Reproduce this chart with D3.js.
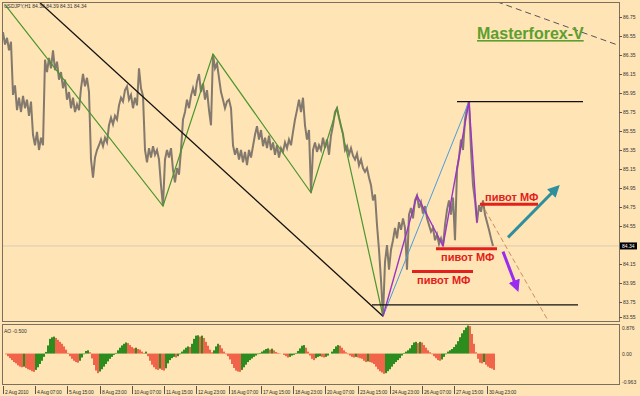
<!DOCTYPE html>
<html>
<head>
<meta charset="utf-8">
<script src="https://cdn.jsdelivr.net/npm/d3@7"></script>
<style>
  body { margin: 0; background: #ffe4b5; }
  svg { display: block; font-family: "Liberation Sans", Arial, sans-serif; }
</style>
</head>
<body>
<script>
// USDJPY H1 closes, one value every 2 bars
var closes = [
  86.59, 86.46, 86.53, 86.40, 86.49, 85.93, 86.03, 85.77, 85.90, 85.75,
  85.92, 85.79, 85.88, 85.71, 85.86, 85.51, 85.40, 85.54, 85.35, 85.48,
  85.40, 86.30, 86.17, 86.32, 86.21, 86.40, 86.19, 86.28, 86.09, 86.17,
  86.00, 86.09, 85.88, 85.96, 85.79, 85.90, 85.75, 85.83, 85.77, 86.00,
  86.15, 86.02, 86.11, 85.96, 85.25, 85.06, 85.27, 85.35, 85.40, 85.46,
  85.39, 85.48, 85.43, 85.61, 85.69, 85.62, 85.71, 85.67, 85.82, 85.90,
  85.86, 85.98, 86.02, 85.88, 85.93, 85.79, 85.90, 85.82, 86.21, 86.00,
  85.92, 85.35, 85.22, 85.37, 85.27, 85.39, 85.30, 85.35, 85.25, 84.98,
  84.76, 85.25, 85.35, 85.27, 85.37, 85.14, 85.01, 85.16, 85.09, 85.35,
  85.67, 85.75, 85.88, 85.79, 85.92, 86.00, 85.92, 86.07, 86.15, 85.96,
  86.05, 85.88, 85.98, 85.77, 85.61, 86.36, 86.21, 86.26, 86.11, 85.96,
  85.88, 85.79, 85.86, 85.88, 85.79, 85.40, 85.30, 85.37, 85.25, 85.35,
  85.22, 85.33, 85.19, 85.35, 85.27, 85.39, 85.51, 85.60, 85.46, 85.56,
  85.39, 85.48, 85.37, 85.50, 85.35, 85.43, 85.30, 85.40, 85.27, 85.37,
  85.33, 85.43, 85.37, 85.46, 85.40, 85.54, 85.67, 85.77, 85.88, 85.75,
  85.90, 85.61, 85.46, 85.56, 84.90, 85.35, 85.43, 85.33, 85.40, 85.35,
  85.48, 85.37, 85.46, 85.30, 85.50, 85.61, 85.75, 85.79, 85.69, 85.60,
  85.52, 85.35, 85.39, 85.30, 85.37, 85.29, 85.25, 85.31, 85.19, 85.25,
  85.16, 85.12, 85.16, 85.06, 84.98, 84.82, 84.88, 84.56, 84.30, 83.98,
  83.60, 84.17, 84.35, 84.09, 84.30, 84.40, 84.53, 84.42, 84.59, 84.51,
  84.63, 84.53, 84.09, 84.67, 84.74, 84.63, 84.82, 84.87, 84.74, 84.80,
  84.68, 84.76, 84.63, 84.56, 84.49, 84.53, 84.40, 84.46, 84.36, 84.42,
  84.34, 84.56, 84.72, 84.82, 84.67, 84.85, 84.40, 85.14, 85.27, 85.46,
  85.35, 85.67, 85.79, 85.86, 85.35, 84.98, 84.82, 84.59, 84.77, 84.70,
  84.82, 84.67, 84.59, 84.51, 84.42, 84.34
];

// Awesome Oscillator, same sampling
var aoValues = [
  0.00, -0.02, -0.08, -0.14, -0.20, -0.26, -0.30, -0.36, -0.40, -0.42,
  -0.40, -0.44, -0.48, -0.50, -0.54, -0.56, -0.50, -0.42, -0.32, -0.22,
  -0.10, 0.05, 0.25, 0.45, 0.50, 0.52, 0.48, 0.42, 0.36, 0.30,
  0.22, 0.12, 0.02, -0.08, -0.16, -0.22, -0.26, -0.28, -0.22, -0.12,
  -0.02, 0.08, 0.10, 0.04, -0.15, -0.35, -0.52, -0.60, -0.55, -0.48,
  -0.40, -0.32, -0.24, -0.16, -0.10, -0.04, 0.02, 0.10, 0.18, 0.25,
  0.30, 0.34, 0.32, 0.26, 0.20, 0.16, 0.18, 0.14, 0.12, 0.06,
  0.02, 0.06, -0.08, -0.22, -0.34, -0.42, -0.48, -0.50, -0.46, -0.50,
  -0.52, -0.45, -0.30, -0.20, -0.14, -0.10, -0.12, -0.08, -0.02, 0.06,
  0.12, 0.18, 0.22, 0.20, 0.30, 0.45, 0.55, 0.56, 0.52, 0.55,
  0.48, 0.36, 0.24, 0.12, 0.04, 0.10, 0.22, 0.30, 0.26, 0.16,
  0.06, -0.02, -0.08, -0.18, -0.32, -0.44, -0.52, -0.55, -0.56, -0.50,
  -0.42, -0.34, -0.26, -0.20, -0.15, -0.10, -0.06, -0.02, 0.02, 0.06,
  0.10, 0.14, 0.16, 0.12, 0.15, 0.10, 0.05, 0.02, 0.01, 0.00,
  -0.04, -0.08, -0.12, -0.10, -0.06, -0.04, 0.02, 0.08, 0.16, 0.24,
  0.26, 0.18, 0.06, -0.06, -0.16, -0.20, -0.14, -0.10, -0.08, -0.10,
  -0.12, -0.10, -0.06, 0.00, 0.06, 0.14, 0.22, 0.26, 0.24, 0.18,
  0.10, 0.04, -0.02, -0.06, -0.10, -0.12, -0.10, -0.12, -0.14, -0.16,
  -0.22, -0.26, -0.24, -0.26, -0.28, -0.32, -0.40, -0.48, -0.54, -0.58,
  -0.62, -0.60, -0.54, -0.48, -0.40, -0.32, -0.26, -0.20, -0.14, -0.06,
  0.02, 0.06, 0.10, 0.16, 0.26, 0.34, 0.36, 0.32, 0.36, 0.34,
  0.26, 0.18, 0.10, 0.04, -0.02, -0.08, -0.14, -0.20, -0.22, -0.18,
  -0.10, -0.02, 0.06, 0.10, 0.14, 0.20, 0.28, 0.38, 0.50, 0.62,
  0.72, 0.80, 0.86, 0.84, 0.60, 0.30, 0.04, -0.16, -0.28, -0.30,
  -0.26, -0.34, -0.40, -0.44, -0.46, -0.50
];

var priceTicks = [86.75, 86.55, 86.35, 86.15, 85.95, 85.75, 85.55, 85.35, 85.15,
                  84.95, 84.75, 84.55, 84.15, 83.95, 83.75, 83.55];
var lastPrice = 84.34;
var aoTicks = [0.876, 0.00, -0.963];
var aoLast = "-0.500";
var header = "USDJPY,H1  84.38 84.39 84.31 84.34";

var timeLabels = ["2 Aug 2010", "4 Aug 07:00", "5 Aug 15:00", "8 Aug 23:00", "10 Aug 07:00",
                  "11 Aug 15:00", "12 Aug 23:00", "16 Aug 07:00", "17 Aug 15:00", "18 Aug 23:00",
                  "20 Aug 07:00", "23 Aug 15:00", "24 Aug 23:00", "26 Aug 07:00", "27 Aug 15:00",
                  "30 Aug 23:00"];
var timeTickBars = [0, 32, 64, 97, 129, 161, 193, 226, 258, 290, 322, 355, 387, 419, 451, 484];

// drawings: [bar, price]
var blackTrend = [[36, 86.91], [380, 83.60]];
var greenZigzag = [[2, 86.88], [160, 84.76], [210, 86.36], [308, 84.90], [334, 85.79], [380, 83.60]];
var blueLine = [[380, 83.60], [466, 85.86]];
var purpleZigzag = [[380, 83.60], [414, 84.87], [440, 84.34], [466, 85.86], [474, 84.58]];
var tanDashed = [[482, 84.72], [548, 83.50]];
var greyDashed = [[494, 86.91], [616, 86.45]];
var levels = [[454, 580, 85.86], [369, 575, 83.72]];
var pivots = [[477, 535, 84.78], [433, 494, 84.31], [409, 470, 84.07]];
var pivotText = "пивот МФ";
var upArrow = [[505, 84.43], [550, 84.91]];
var downArrow = [[500, 84.28], [512, 83.95]];

function init() {
    var w = 640;
    var h = 396;
    var left = 2, right = 619;
    var mainTop = 2, mainBottom = 321;
    var aoTop = 324, aoBottom = 384;

    var svg = d3.select("body")
                .append("svg")
                .attr("width", w)
                .attr("height", h);

    var x = d3.scaleLinear().domain([0, 616]).range([3, 619]);
    var y = d3.scaleLinear().domain([83.55, 86.75]).range([321, 17]);
    var yAo = d3.scaleLinear().domain([-0.963, 0.876]).range([385, 325]);

    var defs = svg.append("defs");
    defs.append("clipPath").attr("id", "clipMain")
        .append("rect").attr("x", left).attr("y", mainTop)
        .attr("width", right - left).attr("height", mainBottom - mainTop);
    defs.append("clipPath").attr("id", "clipAo")
        .append("rect").attr("x", left).attr("y", aoTop)
        .attr("width", right - left).attr("height", aoBottom - aoTop);

    // arrow heads
    [["headTeal", "#2f8f9d"], ["headPurple", "#9a2cf0"]].forEach(function(m) {
        defs.append("marker")
            .attr("id", m[0])
            .attr("markerUnits", "userSpaceOnUse")
            .attr("viewBox", "0 0 10 10")
            .attr("refX", 2).attr("refY", 5)
            .attr("markerWidth", 12).attr("markerHeight", 12)
            .attr("orient", "auto")
            .append("path")
            .attr("d", "M0,0 L10,5 L0,10 z")
            .attr("fill", m[1]);
    });

    var main = svg.append("g").attr("clip-path", "url(#clipMain)");
    var pt = d3.line().x(d => x(d[0])).y(d => y(d[1]));

    // last price line
    main.append("line")
        .attr("x1", left).attr("x2", right)
        .attr("y1", y(lastPrice)).attr("y2", y(lastPrice))
        .attr("stroke", "#d9cbb4").attr("stroke-width", 1);

    // price
    main.append("path")
        .datum(closes)
        .attr("d", d3.line().x((d, i) => x(i * 2)).y(d => y(d)))
        .attr("fill", "none")
        .attr("stroke", "#83796c")
        .attr("stroke-width", 2);

    // trend lines and zigzags
    main.append("path").datum(greenZigzag).attr("d", pt)
        .attr("fill", "none").attr("stroke", "#4b962e").attr("stroke-width", 1.2);
    main.append("path").datum(blackTrend).attr("d", pt)
        .attr("fill", "none").attr("stroke", "#111").attr("stroke-width", 1.3);
    main.append("path").datum(blueLine).attr("d", pt)
        .attr("fill", "none").attr("stroke", "#4a9be0").attr("stroke-width", 1);
    main.append("path").datum(purpleZigzag).attr("d", pt)
        .attr("fill", "none").attr("stroke", "#9a35c8").attr("stroke-width", 1.4);
    main.append("path").datum(tanDashed).attr("d", pt)
        .attr("fill", "none").attr("stroke", "#c98d62").attr("stroke-width", 1)
        .attr("stroke-dasharray", "5,3");
    main.append("path").datum(greyDashed).attr("d", pt)
        .attr("fill", "none").attr("stroke", "#555").attr("stroke-width", 1)
        .attr("stroke-dasharray", "6,4");

    main.selectAll(".level")
        .data(levels)
        .enter()
        .append("line")
        .attr("class", "level")
        .attr("x1", d => x(d[0])).attr("x2", d => x(d[1]))
        .attr("y1", d => y(d[2])).attr("y2", d => y(d[2]))
        .attr("stroke", "#111").attr("stroke-width", 1.3);

    // pivot levels
    main.selectAll(".pivot")
        .data(pivots)
        .enter()
        .append("line")
        .attr("class", "pivot")
        .attr("x1", d => x(d[0])).attr("x2", d => x(d[1]))
        .attr("y1", d => y(d[2])).attr("y2", d => y(d[2]))
        .attr("stroke", "#e3201b").attr("stroke-width", 3);

    main.selectAll(".pivotLabel")
        .data(pivots)
        .enter()
        .append("text")
        .attr("class", "pivotLabel")
        .attr("x", d => x(d[0]) + 5)
        .attr("y", (d, i) => y(d[2]) + (i === 0 ? -3 : 12))
        .attr("font-size", 11)
        .attr("font-weight", "bold")
        .attr("fill", "#e3201b")
        .text(pivotText);

    // arrows
    main.append("path").datum(upArrow).attr("d", pt)
        .attr("stroke", "#2f8f9d").attr("stroke-width", 3)
        .attr("marker-end", "url(#headTeal)");
    main.append("path").datum(downArrow).attr("d", pt)
        .attr("stroke", "#9a2cf0").attr("stroke-width", 3)
        .attr("marker-end", "url(#headPurple)");

    // title
    main.append("text")
        .attr("x", 477).attr("y", 39)
        .attr("font-size", 16)
        .attr("font-weight", "bold")
        .attr("fill", "#5c9f2e")
        .attr("text-decoration", "underline")
        .text("Masterforex-V");

    svg.append("text")
       .attr("x", 4).attr("y", 8)
       .attr("font-size", 5).attr("fill", "#333")
       .text(header);

    // AO histogram
    var aoG = svg.append("g").attr("clip-path", "url(#clipAo)");
    aoG.selectAll("rect")
       .data(aoValues)
       .enter()
       .append("rect")
       .attr("x", (d, i) => x(i * 2))
       .attr("width", x(2) - x(0))
       .attr("y", d => Math.min(yAo(d), yAo(0)))
       .attr("height", d => Math.abs(yAo(d) - yAo(0)))
       .attr("fill", (d, i) => (i === 0 || d >= aoValues[i - 1]) ? "#2d8c1e" : "#f0644a");

    svg.append("text")
       .attr("x", 4).attr("y", 333)
       .attr("font-size", 5).attr("fill", "#333")
       .text("AO " + aoLast);

    // frames
    svg.append("rect")
       .attr("x", left + 0.5).attr("y", mainTop + 0.5)
       .attr("width", right - left).attr("height", mainBottom - mainTop)
       .attr("fill", "none").attr("stroke", "#7b6f60");
    svg.append("rect")
       .attr("x", left + 0.5).attr("y", aoTop + 0.5)
       .attr("width", right - left).attr("height", aoBottom - aoTop)
       .attr("fill", "none").attr("stroke", "#7b6f60");

    // price axis
    var pAxis = svg.append("g");
    pAxis.selectAll("line")
         .data(priceTicks)
         .enter()
         .append("line")
         .attr("x1", right).attr("x2", right + 3)
         .attr("y1", d => Math.min(y(d), 317) + 0.5).attr("y2", d => Math.min(y(d), 317) + 0.5)
         .attr("stroke", "#555");
    pAxis.selectAll("text")
         .data(priceTicks)
         .enter()
         .append("text")
         .attr("x", right + 4)
         .attr("y", d => Math.min(y(d), 317) + 2)
         .attr("font-size", 5).attr("fill", "#333")
         .text(d => d.toFixed(2));

    pAxis.append("rect")
         .attr("x", right + 1).attr("y", y(lastPrice) - 3.5)
         .attr("width", 17).attr("height", 7)
         .attr("fill", "#000");
    pAxis.append("text")
         .attr("x", right + 3).attr("y", y(lastPrice) + 2)
         .attr("font-size", 5).attr("fill", "#fff")
         .text(lastPrice.toFixed(2));

    // AO axis
    svg.selectAll(".aoTick")
       .data(aoTicks)
       .enter()
       .append("text")
       .attr("class", "aoTick")
       .attr("x", right + 3)
       .attr("y", d => Math.max(Math.min(yAo(d), 382), 328) + 2)
       .attr("font-size", 5).attr("fill", "#333")
       .text(d => d === 0 ? "0.00" : String(d));

    // time axis
    var tAxis = svg.append("g");
    tAxis.selectAll("line")
         .data(timeTickBars)
         .enter()
         .append("line")
         .attr("x1", d => Math.round(x(d)) + 0.5).attr("x2", d => Math.round(x(d)) + 0.5)
         .attr("y1", aoBottom + 2).attr("y2", aoBottom + 10)
         .attr("stroke", "#555");
    tAxis.selectAll("text")
         .data(timeTickBars)
         .enter()
         .append("text")
         .attr("x", d => x(d) + 2)
         .attr("y", aoBottom + 10)
         .attr("font-size", 5)
         .attr("letter-spacing", -0.2)
         .attr("fill", "#333")
         .text((d, i) => timeLabels[i]);
}

window.onload = init;
</script>
</body>
</html>
